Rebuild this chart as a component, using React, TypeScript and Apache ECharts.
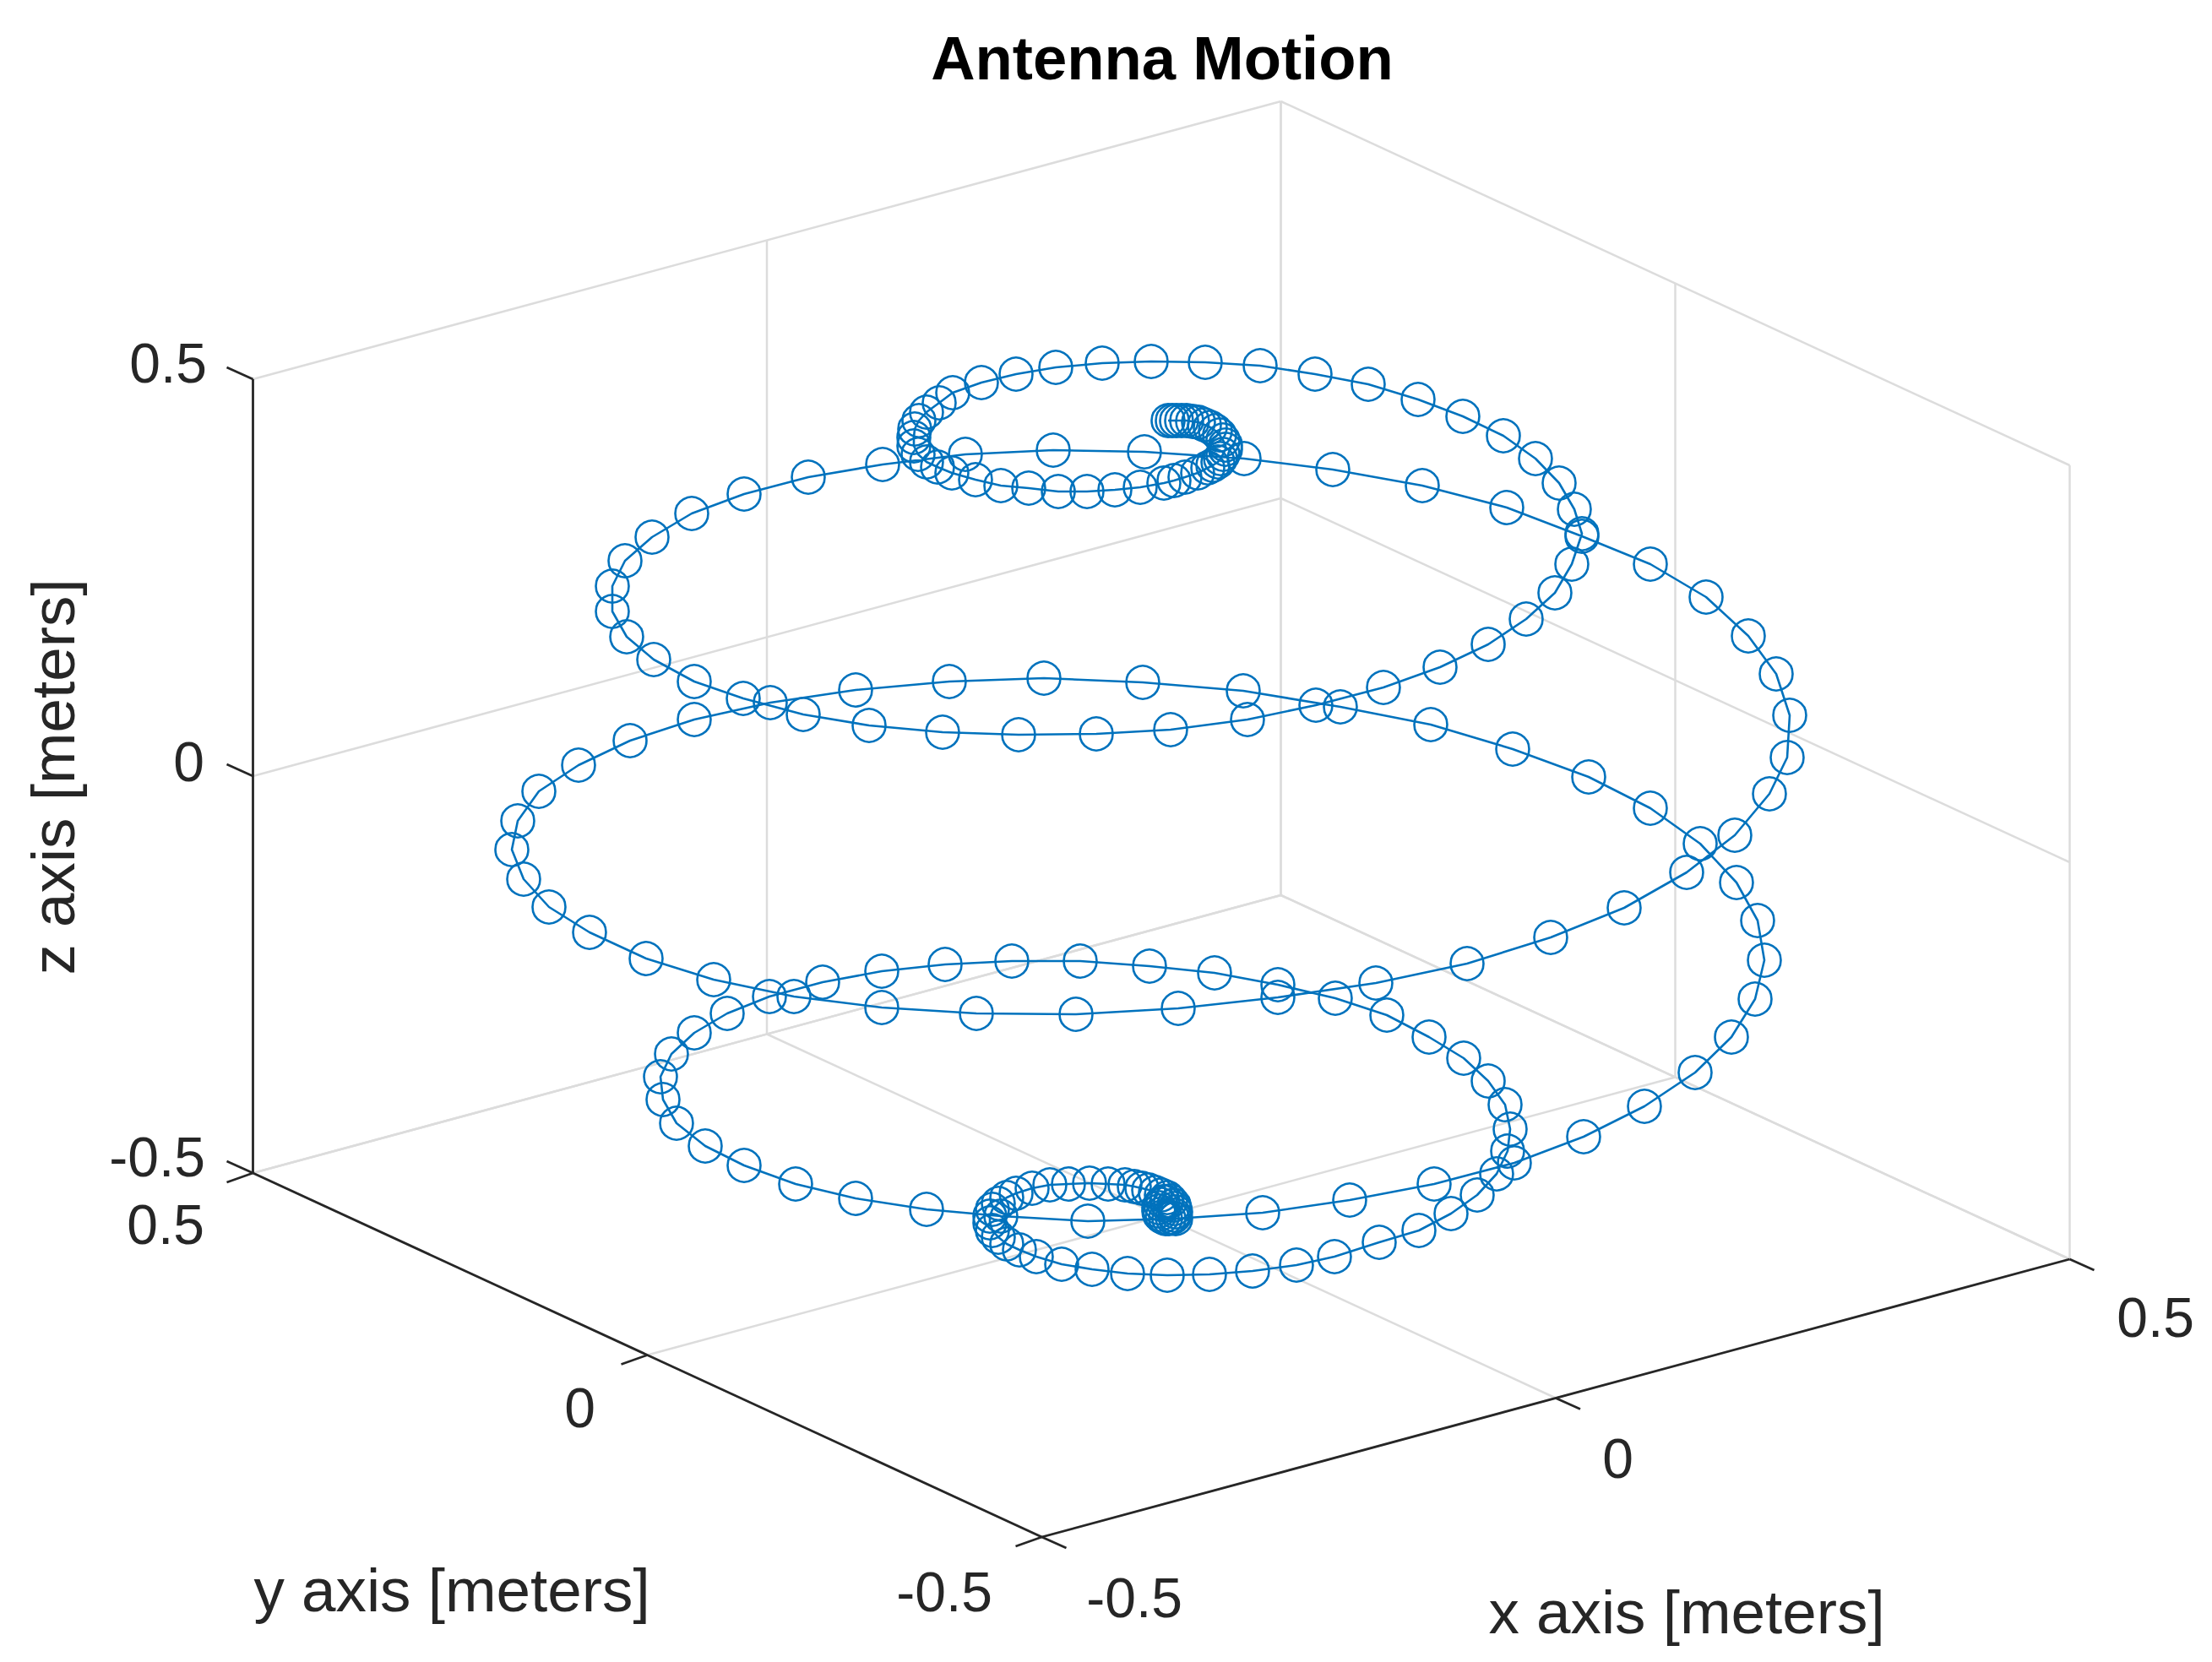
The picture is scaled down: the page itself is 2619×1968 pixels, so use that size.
import React, { useEffect, useRef } from "react";
import * as echarts from "echarts";

const WIDTH = 2619;
const HEIGHT = 1968;

// Helix (projected view coordinates), in path order.
const topSpiral = [
  [1383,498],[1388,498],[1393,498],[1399,498],[1405,498],[1412,499],[1419,500],[1426,503],[1433,506],[1439,510],
  [1444,515],[1448,521],[1451,527],[1451,532],[1448,538],[1445,543],[1442,547],[1436,551],[1430,554],
  [1418,560],[1403,565],[1390,569],[1378,572],
  [1350,577],[1320,580],[1287,582],[1253,582],[1218,578],[1185,575],[1155,568],[1127,560],[1110,553],
  [1097,547],[1087,538],[1082,528],[1082,518],[1083,508],
  [1088,498],[1097,488],[1112,477],[1128,465],[1162,453],[1203,443],
  [1250,435],[1305,430],[1363,428],[1427,429],[1492,433],
];
const coilOne = [
  [1557,443],[1620,455],[1679,473],[1732,493],[1780,516],[1818,543],[1846,572],[1864,603],[1873,632],[1861,668],
  [1841,702],[1807,733],[1762,763],[1705,790],[1638,814],[1558,835],[1477,852],[1386,864],[1298,869],[1206,870],
  [1116,867],[1029,859],[951,846],[880,827],[822,807],[774,781],[742,754],[725,724],[725,694],[740,664],
  [772,636],[819,608],[881,585],[957,565],[1045,550],
];
const coilTwo = [
  [1143,538],[1247,533],[1355,535],[1473,543],[1578,556],[1684,575],[1784,601],[1873,635],[1954,668],[2020,707],
  [2070,753],[2103,798],[2119,847],[2116,897],[2095,940],[2054,989],[1997,1033],[1923,1075],[1836,1110],[1737,1141],
  [1629,1164],[1513,1181],[1395,1194],[1274,1201],[1156,1200],[1044,1193],[940,1180],[845,1160],[765,1135],[698,1104],
  [650,1074],[620,1041],[606,1006],[613,972],[638,937],[685,906],[746,877],[822,852],[912,832],[1013,817],
  [1124,807],
];
const coilThree = [
  [1236,803],[1353,808],[1472,818],[1587,837],[1694,858],[1791,887],[1881,920],[1954,957],[2013,999],[2056,1045],
  [2081,1090],[2089,1137],[2078,1183],[2050,1228],[2007,1270],[1947,1310],[1875,1346],[1793,1377],[1698,1402],[1598,1421],
  [1495,1436],[1392,1443],[1288,1446],[1185,1440],[1097,1432],[1013,1419],[942,1402],[881,1380],[835,1357],[801,1330],
  [785,1302],[782,1275],[795,1248],[822,1223],[861,1200],[911,1180],[974,1163],[1044,1150],[1119,1142],[1198,1138],
];
const coilFour = [
  [1279,1138],[1361,1144],[1438,1152],[1513,1166],[1581,1182],[1642,1202],[1692,1228],[1733,1253],[1762,1280],[1782,1308],
  [1788,1337],[1785,1363],[1772,1390],[1749,1415],[1718,1437],[1680,1457],[1633,1471],[1580,1488],[1535,1498],[1483,1505],
  [1432,1509],[1382,1510],[1335,1508],[1293,1503],[1257,1497],[1227,1488],
];
const bottomSpiral = [
  [1207,1480],[1192,1473],[1182,1465],[1175,1457],[1172,1448],[1172,1440],[1175,1432],[1182,1425],[1192,1418],
  [1203,1413],[1222,1407],[1243,1403],[1265,1402],[1290,1401],[1312,1402],[1332,1403],[1343,1405],[1352,1407],[1360,1409],
  [1368,1412],[1375,1415],[1382,1418],[1386,1422],[1390,1427],[1391,1431],[1392,1435],[1391,1439],[1388,1442],[1384,1443],
  [1380,1443],[1376,1441],[1373,1438],[1372,1434],[1372,1430],[1374,1426],[1377,1423],[1381,1423],
];
const helixPath = [...topSpiral, ...coilOne, ...coilTwo, ...coilThree, ...coilFour, ...bottomSpiral];

const tickValues = [-0.5, 0, 0.5];
const titleText = "Antenna Motion";
const xAxisName = "x axis [meters]";
const yAxisName = "y axis [meters]";
const zAxisName = "z axis [meters]";

// Projection of the axes box into the view.
const project = (x: number, y: number, z: number) => [
  1375 + x * 1217 - y * 934,
  970 - x * 329 - y * 431 - z * 940,
];

const gridSegments: number[][][] = [];
const axisSegments: number[][][] = [];
const tickSegments: number[][][] = [];
const [lo, hi] = [tickValues[0], tickValues[2]];
for (const v of tickValues) {
  // floor lines
  gridSegments.push([project(v, lo, lo), project(v, hi, lo)]);
  gridSegments.push([project(lo, v, lo), project(hi, v, lo)]);
  // back walls, horizontal
  gridSegments.push([project(lo, hi, v), project(hi, hi, v)]);
  gridSegments.push([project(hi, lo, v), project(hi, hi, v)]);
  // back walls, vertical
  gridSegments.push([project(v, hi, lo), project(v, hi, hi)]);
  gridSegments.push([project(hi, v, lo), project(hi, v, hi)]);
  // ticks
  const zp = project(lo, hi, v);
  tickSegments.push([zp, [zp[0] - 31, zp[1] - 14]]);
  const yp = project(lo, v, lo);
  tickSegments.push([yp, [yp[0] - 31, yp[1] + 11]]);
  const xp = project(v, lo, lo);
  tickSegments.push([xp, [xp[0] + 29, xp[1] + 13]]);
}
axisSegments.push([project(lo, hi, lo), project(lo, hi, hi)]);
axisSegments.push([project(lo, hi, lo), project(lo, lo, lo)]);
axisSegments.push([project(lo, lo, lo), project(hi, lo, lo)]);

const segmentSeries = (segments: number[][][], color: string, width: number) =>
  segments.map((points) => ({
    type: "line",
    data: points,
    symbol: "none",
    silent: true,
    clip: false,
    lineStyle: { color, width },
    z: 1,
  }));

const fontFamily = "Liberation Sans";
const ink = "#262626";
const label = (text: string, x: number, y: number, extra: object = {}) => ({
  type: "text",
  x,
  y,
  style: { text, fill: ink, fontFamily, fontSize: 66, textAlign: "right", textVerticalAlign: "middle" },
  ...extra,
});
const axisTitle = (text: string, x: number, y: number, rotation = 0) => ({
  type: "text",
  x,
  y,
  rotation,
  style: { text, fill: ink, fontFamily, fontSize: 72.8, textAlign: "center", textVerticalAlign: "middle" },
});

export default function App() {
  const ref = useRef<HTMLDivElement>(null);
  useEffect(() => {
    const chart = echarts.init(ref.current!, undefined, { renderer: "svg" });
    chart.setOption({
      animation: false,
      backgroundColor: "#ffffff",
      title: {
        text: titleText,
        left: 1371,
        top: 27,
        textAlign: "center",
        textStyle: { fontFamily, fontSize: 72.5, fontWeight: "bold", color: "#000000" },
      },
      grid: { left: 0, right: 0, top: 0, bottom: 0 },
      xAxis: { type: "value", min: 0, max: WIDTH, show: false },
      yAxis: { type: "value", min: 0, max: HEIGHT, inverse: true, show: false },
      series: [
        ...segmentSeries(gridSegments, "#dcdcdc", 2.5),
        ...segmentSeries(axisSegments, ink, 2.8),
        ...segmentSeries(tickSegments, ink, 2.8),
        {
          type: "line",
          data: helixPath,
          clip: false,
          silent: true,
          z: 3,
          symbol: "circle",
          symbolSize: 39,
          showSymbol: true,
          showAllSymbol: true,
          lineStyle: { color: "#0072BD", width: 2.6 },
          itemStyle: { color: "rgba(0,0,0,0)", borderColor: "#0072BD", borderWidth: 2.6 },
        },
      ],
      graphic: [
        label("0.5", 245, 430),
        label("0", 242, 902),
        label("-0.5", 243, 1370),
        label("0.5", 242, 1450),
        label("0", 705, 1667),
        label("-0.5", 1175, 1885),
        label("-0.5", 1400, 1892),
        label("0", 1934, 1727),
        label("0.5", 2598, 1560),
        axisTitle(yAxisName, 535, 1882),
        axisTitle(xAxisName, 1997, 1908),
        axisTitle(zAxisName, 62, 920, Math.PI / 2),
      ],
    });
    return () => chart.dispose();
  }, []);
  return (
    <div
      ref={ref}
      style={{ position: "absolute", left: 0, top: 0, width: WIDTH, height: HEIGHT }}
    />
  );
}
